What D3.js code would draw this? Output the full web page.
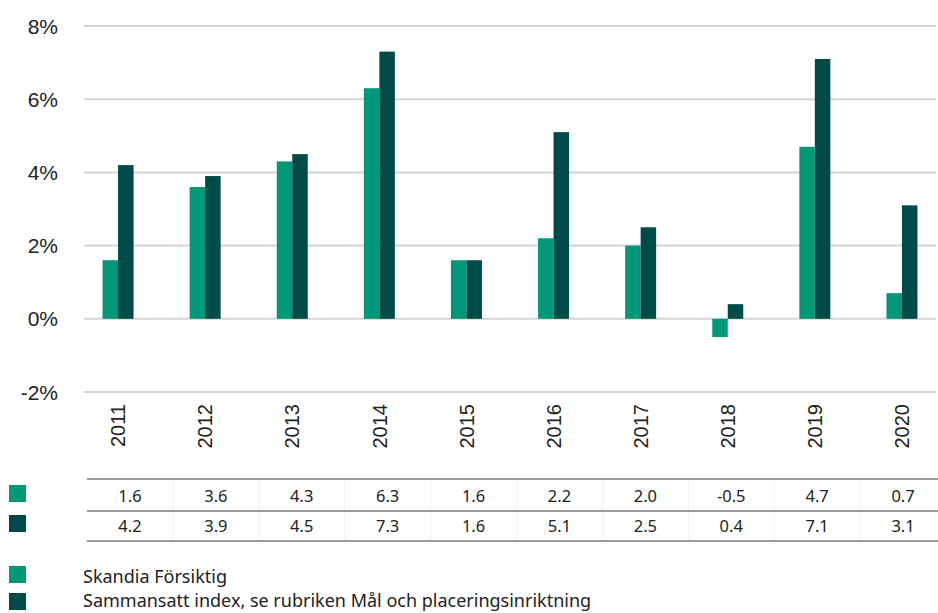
<!DOCTYPE html>
<html>
<head>
<meta charset="utf-8">
<script src="https://cdn.jsdelivr.net/npm/d3@7"></script>
<style>
  html, body { margin: 0; padding: 0; background: #fff; }
  svg { display: block; }
</style>
</head>
<body>
<script>
const categories = ["2011","2012","2013","2014","2015","2016","2017","2018","2019","2020"];
const seriesNames = ["Skandia Försiktig", "Sammansatt index, se rubriken Mål och placeringsinriktning"];
const skandia = [1.6, 3.6, 4.3, 6.3, 1.6, 2.2, 2.0, -0.5, 4.7, 0.7];
const index = [4.2, 3.9, 4.5, 7.3, 1.6, 5.1, 2.5, 0.4, 7.1, 3.1];
const yTicks = [-2, 0, 2, 4, 6, 8];
const colors = ["#009877", "#004a48"];

const W = 938, H = 613;
const svg = d3.select("body").append("svg").attr("width", W).attr("height", H);

const y = d3.scaleLinear().domain([-2, 8]).range([392, 26]);
const x = d3.scaleBand().domain(categories).range([74.5, 945.5]).padding(0);
const xs = d3.scaleBand().domain([0, 1]).range([-15.5, 15.5]).padding(0);

// gridlines
svg.append("g").selectAll("line").data(yTicks).join("line")
  .attr("x1", 84).attr("x2", 936)
  .attr("y1", d => y(d)).attr("y2", d => y(d))
  .attr("stroke", "#d4d4d4").attr("stroke-width", 2);

// y tick labels
svg.append("g").selectAll("text").data(yTicks).join("text")
  .attr("x", 58).attr("y", d => y(d)).attr("dy", "0.36em")
  .attr("text-anchor", "end")
  .attr("font-family", "Liberation Sans, Arial, sans-serif")
  .attr("font-size", 21).attr("fill", "#222")
  .text(d => d + "%");

// bars
const data = categories.map((c, i) => ({ c, vals: [skandia[i], index[i]] }));
const groups = svg.append("g").selectAll("g").data(data).join("g")
  .attr("transform", d => `translate(${x(d.c) + x.bandwidth() / 2},0)`);
groups.selectAll("rect").data(d => d.vals.map((v, k) => ({ v, k }))).join("rect")
  .attr("x", d => xs(d.k))
  .attr("width", xs.bandwidth())
  .attr("y", d => Math.min(y(d.v), y(0)))
  .attr("height", d => Math.abs(y(d.v) - y(0)))
  .attr("fill", d => colors[d.k]);

// year labels
svg.append("g").selectAll("text").data(categories).join("text")
  .attr("transform", d => `translate(${x(d) + x.bandwidth() / 2},404) rotate(-90)`)
  .attr("text-anchor", "end").attr("dy", "0.36em")
  .attr("font-family", "Liberation Sans, Arial, sans-serif")
  .attr("font-size", 20).attr("fill", "#222")
  .text(d => d);

// data table
const tx = d3.scaleBand().domain(categories).range([87, 946]).padding(0);
const rowLines = [479, 511, 541];
svg.append("g").selectAll("line").data(categories.slice(1)).join("line")
  .attr("x1", d => tx(d)).attr("x2", d => tx(d))
  .attr("y1", 480).attr("y2", 540)
  .attr("stroke", "#f1f1f1").attr("stroke-width", 1);
svg.append("g").selectAll("line").data(rowLines).join("line")
  .attr("x1", 87).attr("x2", 938)
  .attr("y1", d => d).attr("y2", d => d)
  .attr("stroke", "#9a9a9a").attr("stroke-width", 2);

const tableRows = [skandia, index];
const rowBaselines = [502, 532];
tableRows.forEach((vals, r) => {
  svg.append("g").selectAll("text").data(vals).join("text")
    .attr("x", (d, i) => tx(categories[i]) + tx.bandwidth() / 2)
    .attr("y", rowBaselines[r])
    .attr("text-anchor", "middle")
    .attr("font-family", "Noto Sans, sans-serif")
    .attr("font-size", 16.5).attr("fill", "#222")
    .text(d => d.toFixed(1));
  svg.append("rect").attr("x", 9).attr("y", rowBaselines[r] - 17)
    .attr("width", 17).attr("height", 17).attr("fill", colors[r]);
});

// legend
seriesNames.forEach((name, k) => {
  svg.append("rect").attr("x", 9).attr("y", [566, 593][k])
    .attr("width", 17).attr("height", 17).attr("fill", colors[k]);
  svg.append("text").attr("x", 83).attr("y", [583, 607][k])
    .attr("font-family", "Noto Sans, sans-serif")
    .attr("font-size", 18).attr("fill", "#222")
    .text(name);
});
</script>
</body>
</html>
